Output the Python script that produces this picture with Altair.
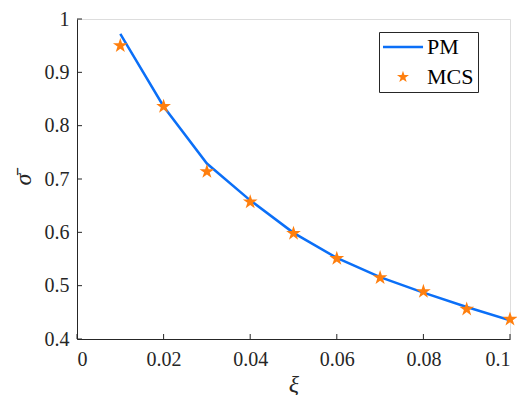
import altair as alt
import pandas as pd

# ---- data ----
xi = [0.01, 0.02, 0.03, 0.04, 0.05, 0.06, 0.07, 0.08, 0.09, 0.10]
pm = [0.972, 0.836, 0.729, 0.660, 0.599, 0.552, 0.516, 0.487, 0.460, 0.435]
mcs = [0.950, 0.836, 0.714, 0.657, 0.598, 0.551, 0.515, 0.489, 0.456, 0.437]
series_names = ["PM", "MCS"]
x_ticks = [0, 0.02, 0.04, 0.06, 0.08, 0.1]
y_ticks = [0.4, 0.5, 0.6, 0.7, 0.8, 0.9, 1.0]

BLUE = "#0b6ff7"
ORANGE = "#ff7f0e"
AX = "#262626"
FONT = "Liberation Serif"

STAR = ("M0,-1L0.2245,-0.309L0.951,-0.309L0.363,0.118L0.588,0.809L0,0.382"
        "L-0.588,0.809L-0.363,0.118L-0.951,-0.309L-0.2245,-0.309Z")
# legend glyphs (shifted so the line sample starts at the legend's left edge)
LEG_STAR = ("M1.42,-1L1.6445,-0.309L2.371,-0.309L1.783,0.118L2.008,0.809L1.42,0.382"
            "L0.832,0.809L1.057,0.118L0.469,-0.309L1.1955,-0.309Z")
LEG_LINE = "M-1.74,0L4.59,0"

df_pm = pd.DataFrame({"xi": xi, "val": pm, "series": "PM"})
df_mcs = pd.DataFrame({"xi": xi, "val": mcs, "series": "MCS"})
df_xt = pd.DataFrame({"xi": x_ticks})
df_yt = pd.DataFrame({"val": y_ticks})

x_scale = alt.Scale(domain=[0, 0.1], nice=False, zero=False)
y_scale = alt.Scale(domain=[0.4, 1.0], nice=False, zero=False)
x_axis = alt.Axis(values=x_ticks, format="~g", title="ξ", labelPadding=10,
                  titlePadding=3, grid=False)
y_axis = alt.Axis(values=y_ticks, format="~g", title="σ̄", labelPadding=8,
                  titlePadding=9, grid=False)


def X():
    return alt.X("xi:Q", scale=x_scale, axis=x_axis)


def Y():
    return alt.Y("val:Q", scale=y_scale, axis=y_axis)


legend = alt.Legend(
    title=None, orient="none", legendX=302, legendY=13,
    padding=4, strokeColor=AX, fillColor="white", cornerRadius=0,
    labelFont=FONT, labelFontSize=22, labelColor="black",
    symbolSize=160, symbolOffset=0, labelOffset=22,
    rowPadding=8, symbolOpacity=1,
    symbolType={"expr": f"datum.value == 'PM' ? '{LEG_LINE}' : '{LEG_STAR}'"},
    symbolStrokeWidth={"expr": "datum.value == 'PM' ? 2.5 : 0"},
)

color = alt.Color("series:N", scale=alt.Scale(domain=series_names, range=[BLUE, ORANGE]),
                  legend=legend)

line = alt.Chart(df_pm).mark_line(strokeWidth=2.5).encode(x=X(), y=Y(), color=color)
points = alt.Chart(df_mcs).mark_point(shape=STAR, filled=True, size=240, opacity=1).encode(
    x=X(), y=Y(), color=color)

xt = alt.Chart(df_xt).mark_rule(color=AX, strokeWidth=1).encode(
    x=X(), y=alt.value(320), y2=alt.value(315))
yt = alt.Chart(df_yt).mark_rule(color=AX, strokeWidth=1).encode(
    y=Y(), x=alt.value(0), x2=alt.value(5))

chart = alt.layer(xt, yt, line, points).properties(
    width=433, height=320,
    autosize=alt.AutoSizeParams(type="none"),
    padding={"left": 69, "top": 11, "right": 7, "bottom": 56},
).configure_view(stroke=None).configure(font=FONT).configure_axis(
    domainColor=AX, domainWidth=1, tickSize=0,
    labelFont=FONT, labelFontSize=20, labelColor=AX,
    titleFont=FONT, titleFontSize=24, titleFontStyle="italic",
    titleFontWeight="normal", titleColor=AX,
)

chart.save("out.html", embed_options={"renderer": "svg", "actions": False})
